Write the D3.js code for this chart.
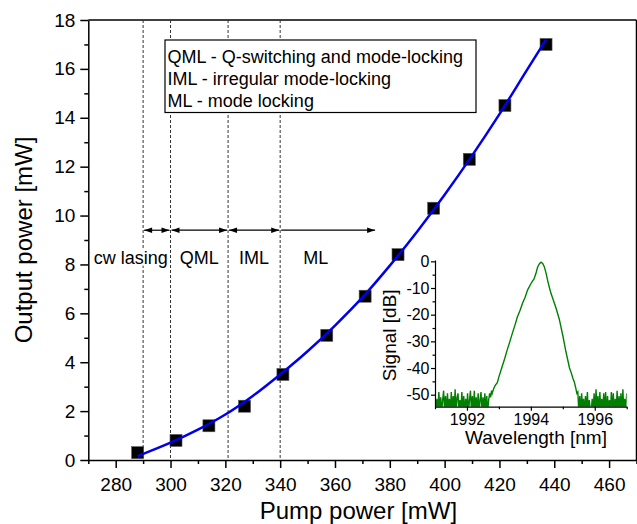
<!DOCTYPE html>
<html>
<head>
<meta charset="utf-8">
<script src="https://cdn.jsdelivr.net/npm/d3@7"></script>
<style>
body { margin: 0; background: #fff; }
text { font-family: "Liberation Sans", Arial, sans-serif; fill: #000; }
</style>
</head>
<body>
<div id="chart"></div>
<script>
// main plot data
const pumpPower = [288, 302, 314, 327, 341, 357, 371, 383, 396, 409, 422, 437];
const outputPower = [0.3, 0.8, 1.4, 2.2, 3.5, 5.1, 6.7, 8.4, 10.3, 12.3, 14.5, 17.0];
const fitPump = [288, 300, 310, 320, 330, 340, 350, 360, 370, 380, 390, 400, 410, 420, 430, 437];
const fitOutput = [0.16, 0.71, 1.24, 1.86, 2.62, 3.5, 4.45, 5.5, 6.65, 7.95, 9.35, 10.85, 12.45, 14.15, 15.95, 17.2];

const regimeBounds = [290, 300, 321, 340];
const regimeArrows = [[290, 300, true], [300, 321, true], [321, 340, true], [340, 375, false]];
const regimeLabels = ["cw lasing", "QML", "IML", "ML"];
const regimeLabelPos = [285.5, 310.5, 330.5, 353];
const arrowLevel = 9.4;
const labelLevel = 8.4;

const legendLines = ["QML - Q-switching and mode-locking", "IML - irregular mode-locking", "ML - mode locking"];

const xMajorTicks = [280, 300, 320, 340, 360, 380, 400, 420, 440, 460];
const xMinorTicks = [270, 290, 310, 330, 350, 370, 390, 410, 430, 450, 470];
const yMajorTicks = [0, 2, 4, 6, 8, 10, 12, 14, 16, 18];
const yMinorTicks = [1, 3, 5, 7, 9, 11, 13, 15, 17];

// inset spectrum data
const noiseStep = 0.03;
const noiseLeftStart = 1991.0;
const noiseLeft = [-50, -56, -51.5, -57, -49, -55.5, -51, -56.5, -52, -48.5, -56, -50.5, -57, -49.5, -55.5, -51.5, -56.5, -49, -56, -50.5,
  -55.5, -48, -57, -51, -49.5, -56, -52, -56.5, -49, -55.5, -50.5, -57, -51.5, -56, -49.5, -56.5, -52, -48.5, -56, -50.5,
  -57, -48.5, -55.5, -51, -56.5, -49.5, -56, -52, -49, -57, -51, -55.5, -49.5, -56, -50.5, -56.5, -52, -49.5, -51, -48.5];
const noiseRightStart = 1995.47;
const noiseRight = [-49, -56, -50.5, -57, -49.5, -55.5, -51.5, -56.5, -50.5, -56, -49, -57, -52, -55.5, -56.5, -51.5, -56, -49.5, -57, -48,
  -55.5, -50.5, -57, -49, -56, -51.5, -56.5, -49.5, -55.5, -49, -57, -50.5, -56, -52, -56.5, -49, -55.5, -49.5, -57, -51.5,
  -56, -48.5, -57, -50.5, -55.5, -49.5, -57, -48, -56, -51.5, -56.5, -49.5];
const peakWl = [1992.79, 1992.84, 1992.89, 1992.95, 1993.0, 1993.1, 1993.18, 1993.26, 1993.34, 1993.42, 1993.5, 1993.58,
  1993.66, 1993.74, 1993.82, 1993.9, 1994.0, 1994.05, 1994.1, 1994.16, 1994.21, 1994.27, 1994.32, 1994.37, 1994.42,
  1994.48, 1994.53, 1994.58, 1994.63, 1994.71, 1994.79, 1994.89, 1995.0, 1995.1, 1995.21, 1995.27, 1995.32, 1995.36,
  1995.40, 1995.44];
const peakDb = [-49.5, -47.6, -46.4, -45.5, -43.3, -39.5, -36.5, -33.2, -30.2, -27, -24, -20.8,
  -18.4, -15.7, -13.5, -10.7, -8.4, -7.4, -6.6, -4.5, -2.2, -0.9, -0.3, -0.8, -2.0,
  -4.6, -7.4, -9.8, -12.0, -14.8, -17.6, -21.7, -27.8, -34.0, -40.0, -42.0, -44.0, -45.2,
  -47.2, -49.5];
const insetXMajor = [1992, 1994, 1996];
const insetXMinor = [1991, 1993, 1995, 1997];
const insetYMajor = [0, -10, -20, -30, -40, -50];
const insetYMinor = [-5, -15, -25, -35, -45];

const width = 637, height = 524;
const plot = { left: 88.3, right: 636.5, top: 20, bottom: 460 };
const inset = { left: 435, right: 626.7, top: 260, bottom: 406.7 };

const svg = d3.select("#chart").append("svg")
  .attr("width", width)
  .attr("height", height);

const x = d3.scaleLinear().domain([270, 470]).range([plot.left, plot.right]);
const y = d3.scaleLinear().domain([0, 18]).range([plot.bottom, plot.top]);

// frame top and right
svg.append("line").attr("x1", plot.left).attr("x2", plot.right).attr("y1", plot.top).attr("y2", plot.top)
  .attr("stroke", "#000").attr("stroke-width", 1.5);
svg.append("line").attr("x1", plot.right).attr("x2", plot.right).attr("y1", plot.top).attr("y2", plot.bottom)
  .attr("stroke", "#000").attr("stroke-width", 1.5);

function styleAxis(g, fontSize) {
  g.select(".domain").attr("stroke-width", 1.5);
  g.selectAll(".tick line").attr("stroke-width", 1.5);
  g.selectAll(".tick text")
    .attr("font-family", "'Liberation Sans', Arial, sans-serif")
    .attr("font-size", fontSize)
    .attr("fill", "#000");
}

// main axes
svg.append("g")
  .attr("transform", `translate(0,${plot.bottom})`)
  .call(d3.axisBottom(x).tickValues(xMinorTicks).tickSize(4).tickFormat("").tickSizeOuter(0))
  .call(g => { g.select(".domain").remove(); g.selectAll(".tick line").attr("stroke-width", 1.5); });
svg.append("g")
  .attr("transform", `translate(0,${plot.bottom})`)
  .call(d3.axisBottom(x).tickValues(xMajorTicks).tickSize(8).tickPadding(10).tickSizeOuter(0))
  .call(g => styleAxis(g, 19));

svg.append("g")
  .attr("transform", `translate(${plot.left},0)`)
  .call(d3.axisLeft(y).tickValues(yMinorTicks).tickSize(4).tickFormat("").tickSizeOuter(0))
  .call(g => { g.select(".domain").remove(); g.selectAll(".tick line").attr("stroke-width", 1.5); });
svg.append("g")
  .attr("transform", `translate(${plot.left},0)`)
  .call(d3.axisLeft(y).tickValues(yMajorTicks).tickSize(8).tickPadding(5).tickSizeOuter(0))
  .call(g => styleAxis(g, 19));

svg.append("text")
  .attr("x", (plot.left + plot.right) / 2 - 4)
  .attr("y", 519)
  .attr("text-anchor", "middle")
  .attr("font-size", 24)
  .text("Pump power [mW]");

svg.append("text")
  .attr("transform", `translate(32,${(plot.top + plot.bottom) / 2}) rotate(-90)`)
  .attr("text-anchor", "middle")
  .attr("font-size", 24)
  .text("Output power [mW]");

// regime boundaries
svg.selectAll(".bound")
  .data(regimeBounds)
  .join("line")
  .attr("class", "bound")
  .attr("x1", d => x(d)).attr("x2", d => x(d))
  .attr("y1", plot.top).attr("y2", plot.bottom)
  .attr("stroke", "#333")
  .attr("stroke-width", 1)
  .attr("stroke-dasharray", "3,2");

// regime labels with white backing
const labelG = svg.append("g");
regimeLabels.forEach((lab, i) => {
  const t = labelG.append("text")
    .attr("x", x(regimeLabelPos[i]))
    .attr("y", y(labelLevel) + 9)
    .attr("text-anchor", "middle")
    .attr("font-size", 18)
    .text(lab);
  const bb = t.node().getBBox();
  labelG.insert("rect", () => t.node())
    .attr("x", bb.x).attr("y", bb.y + 2)
    .attr("width", bb.width).attr("height", bb.height - 4)
    .attr("fill", "#fff");
});

// arrows
const ay = y(arrowLevel);
const headLen = 8, headHalf = 2.8;
regimeArrows.forEach(([a, b, both]) => {
  const x0 = x(a) + 1, x1 = x(b) - 1;
  svg.append("line")
    .attr("x1", x0).attr("x2", x1).attr("y1", ay).attr("y2", ay)
    .attr("stroke", "#000").attr("stroke-width", 1.2);
  svg.append("path")
    .attr("d", `M${x1},${ay}L${x1 - headLen},${ay - headHalf}L${x1 - headLen},${ay + headHalf}Z`)
    .attr("fill", "#000");
  if (both) {
    svg.append("path")
      .attr("d", `M${x0},${ay}L${x0 + headLen},${ay - headHalf}L${x0 + headLen},${ay + headHalf}Z`)
      .attr("fill", "#000");
  }
});

// legend box
const legendG = svg.append("g").attr("transform", "translate(165,40)");
legendG.append("rect")
  .attr("width", 311).attr("height", 72.5)
  .attr("fill", "#fff").attr("stroke", "#000").attr("stroke-width", 1.2);
legendG.selectAll("text")
  .data(legendLines)
  .join("text")
  .attr("x", 2.5)
  .attr("y", (d, i) => 22.5 + i * 22)
  .attr("font-size", 18)
  .text(d => d);

// data squares
const sq = 12;
svg.selectAll(".pt")
  .data(pumpPower.map((p, i) => [p, outputPower[i]]))
  .join("rect")
  .attr("class", "pt")
  .attr("x", d => x(d[0]) - sq / 2)
  .attr("y", d => y(d[1]) - sq / 2)
  .attr("width", sq).attr("height", sq)
  .attr("fill", "#000")
  .attr("stroke", "#555")
  .attr("stroke-width", 0.6);

// fit curve over the squares
const fitData = fitPump.map((p, i) => [p, fitOutput[i]]);
svg.append("path")
  .datum(fitData)
  .attr("fill", "none")
  .attr("stroke", "#0000ee")
  .attr("stroke-width", 2.5)
  .attr("d", d3.line().x(d => x(d[0])).y(d => y(d[1])).curve(d3.curveCatmullRom));

// inset
const ix = d3.scaleLinear().domain([1991, 1997]).range([inset.left, inset.right]);
const iy = d3.scaleLinear().domain([-54.5, 0.5]).range([inset.bottom, inset.top]);

const spectrum = [];
noiseLeft.forEach((v, i) => spectrum.push([noiseLeftStart + i * noiseStep, v]));
peakWl.forEach((w, i) => spectrum.push([w, peakDb[i]]));
noiseRight.forEach((v, i) => spectrum.push([noiseRightStart + i * noiseStep, v]));

svg.append("clipPath").attr("id", "insetClip")
  .append("rect")
  .attr("x", inset.left).attr("y", inset.top - 5)
  .attr("width", inset.right - inset.left).attr("height", inset.bottom - inset.top + 5);

svg.append("path")
  .datum(spectrum)
  .attr("clip-path", "url(#insetClip)")
  .attr("fill", "none")
  .attr("stroke", "#008000")
  .attr("stroke-width", 1.4)
  .attr("d", d3.line().x(d => ix(d[0])).y(d => iy(d[1])));

svg.append("g")
  .attr("transform", `translate(0,${inset.bottom})`)
  .call(d3.axisBottom(ix).tickValues(insetXMinor).tickSize(2.5).tickFormat("").tickSizeOuter(0))
  .call(g => { g.select(".domain").remove(); g.selectAll(".tick line").attr("stroke-width", 1.2); });
svg.append("g")
  .attr("transform", `translate(0,${inset.bottom})`)
  .call(d3.axisBottom(ix).tickValues(insetXMajor).tickSize(4).tickPadding(3).tickSizeOuter(0)
    .tickFormat(d3.format("d")))
  .call(g => styleAxis(g, 16))
  .call(g => { g.select(".domain").attr("stroke-width", 1.2); g.selectAll(".tick line").attr("stroke-width", 1.2); });

svg.append("g")
  .attr("transform", `translate(${inset.left},0)`)
  .call(d3.axisLeft(iy).tickValues(insetYMinor).tickSize(2.5).tickFormat("").tickSizeOuter(0))
  .call(g => { g.select(".domain").remove(); g.selectAll(".tick line").attr("stroke-width", 1.2); });
svg.append("g")
  .attr("transform", `translate(${inset.left},0)`)
  .call(d3.axisLeft(iy).tickValues(insetYMajor).tickSize(4).tickPadding(1.5).tickSizeOuter(0)
    .tickFormat(d => String(d)))
  .call(g => styleAxis(g, 16))
  .call(g => { g.select(".domain").attr("stroke-width", 1.2); g.selectAll(".tick line").attr("stroke-width", 1.2); });

svg.append("text")
  .attr("x", 536)
  .attr("y", 444)
  .attr("text-anchor", "middle")
  .attr("font-size", 19)
  .text("Wavelength [nm]");

svg.append("text")
  .attr("transform", `translate(396,${(inset.top + inset.bottom) / 2 + 2}) rotate(-90)`)
  .attr("text-anchor", "middle")
  .attr("font-size", 19)
  .text("Signal [dB]");
</script>
</body>
</html>
